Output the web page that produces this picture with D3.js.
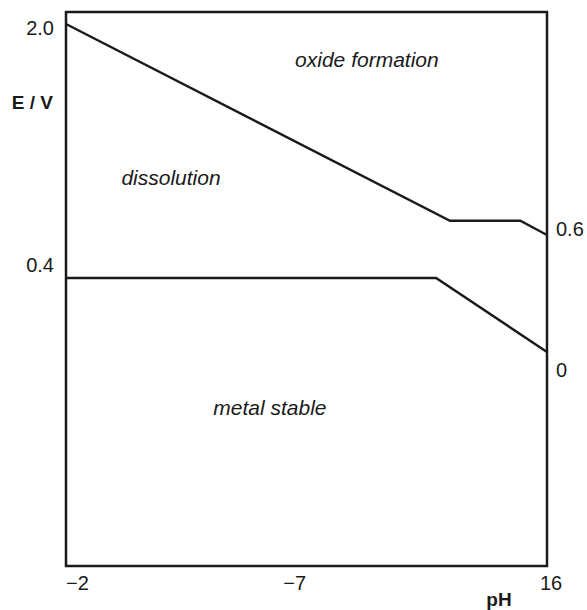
<!DOCTYPE html>
<html>
<head>
<meta charset="utf-8">
<script src="https://cdn.jsdelivr.net/npm/d3@7"></script>
<style>
  body { margin: 0; background: #fff; }
  text { font-family: "Liberation Sans", Arial, Helvetica, sans-serif; fill: #1a1a1a; }
</style>
</head>
<body>
<div id="chart"></div>
<script>
// pH / E schematic
var upperLine = [[-2, 2.0], [12.37, 0.80], [15.0, 0.80], [16, 0.713]];
var lowerLine = [[-2, 0.451], [11.85, 0.451], [16, 0]];

var regionNames = ["oxide formation", "dissolution", "metal stable"];
var regionPH = [9.26, 1.93, 5.63];
var regionE = [1.738, 1.018, -0.384];

var xTickText = ["\u22122", "\u22127", "16"];
var xTickPH = [-1.57, 6.56, 16.15];

var leftTickText = ["2.0", "0.4"];
var leftTickE = [1.976, 0.53];
var rightTickText = ["0.6", "0"];
var rightTickE = [0.747, -0.107];

var width = 587, height = 610;

var svg = d3.select("#chart")
.append("svg")
.attr("width", width)
.attr("height", height);

var x = d3.scaleLinear().domain([-2, 16]).range([66, 547]);
var y = d3.scaleLinear().domain([-1.305, 2.073]).range([566, 12]);

var line = d3.line()
.x(function(d) { return x(d[0]); })
.y(function(d) { return y(d[1]); });

// frame
svg.append("rect")
.attr("x", x.range()[0])
.attr("y", y.range()[1])
.attr("width", x.range()[1] - x.range()[0])
.attr("height", y.range()[0] - y.range()[1])
.attr("fill", "none")
.attr("stroke", "#1a1a1a")
.attr("stroke-width", 2.5);

svg.selectAll(".boundary")
.data([upperLine, lowerLine])
.enter()
.append("path")
.attr("class", "boundary")
.attr("d", line)
.attr("fill", "none")
.attr("stroke", "#1a1a1a")
.attr("stroke-width", 2.4)
.attr("stroke-linejoin", "miter");

svg.selectAll(".region")
.data(regionNames)
.enter()
.append("text")
.attr("class", "region")
.attr("x", function(d, i) { return x(regionPH[i]); })
.attr("y", function(d, i) { return y(regionE[i]); })
.attr("text-anchor", "middle")
.style("font-size", "21px")
.style("font-style", "italic")
.text(function(d) { return d; });

svg.selectAll(".xtick")
.data(xTickText)
.enter()
.append("text")
.attr("class", "xtick")
.attr("x", function(d, i) { return x(xTickPH[i]); })
.attr("y", 590)
.attr("text-anchor", "middle")
.style("font-size", "20px")
.text(function(d) { return d; });

svg.selectAll(".ltick")
.data(leftTickText)
.enter()
.append("text")
.attr("class", "ltick")
.attr("x", x(-2) - 12)
.attr("y", function(d, i) { return y(leftTickE[i]); })
.attr("dy", "0.35em")
.attr("text-anchor", "end")
.style("font-size", "20px")
.text(function(d) { return d; });

svg.selectAll(".rtick")
.data(rightTickText)
.enter()
.append("text")
.attr("class", "rtick")
.attr("x", x(16) + 9)
.attr("y", function(d, i) { return y(rightTickE[i]); })
.attr("dy", "0.35em")
.attr("text-anchor", "start")
.style("font-size", "20px")
.text(function(d) { return d; });

// axis titles
svg.append("text")
.attr("x", x(-2) - 13)
.attr("y", 109)
.attr("text-anchor", "end")
.style("font-size", "19px")
.style("font-weight", "bold")
.text("E / V");

svg.append("text")
.attr("x", 499)
.attr("y", 606)
.attr("text-anchor", "middle")
.style("font-size", "19px")
.style("font-weight", "bold")
.text("pH");
</script>
</body>
</html>
